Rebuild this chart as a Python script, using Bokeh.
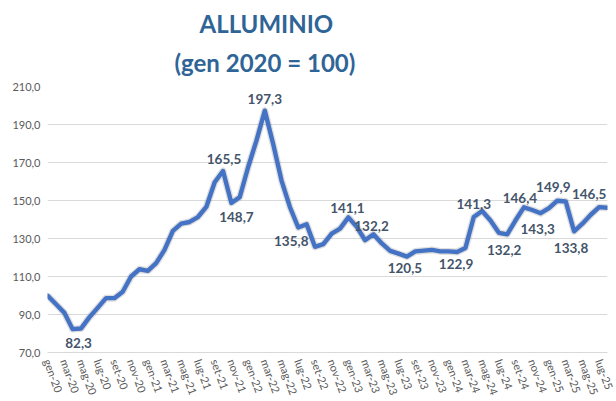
from bokeh.plotting import figure
from bokeh.models import Range1d, FixedTicker, CustomJSTickFormatter, ColumnDataSource, Title
from bokeh.core.properties import value
from bokeh.embed import file_html
from bokeh.resources import INLINE

# ---- data ----
months = [
    "gen-20", "feb-20", "mar-20", "apr-20", "mag-20", "giu-20", "lug-20", "ago-20", "set-20", "ott-20", "nov-20", "dic-20",
    "gen-21", "feb-21", "mar-21", "apr-21", "mag-21", "giu-21", "lug-21", "ago-21", "set-21", "ott-21", "nov-21", "dic-21",
    "gen-22", "feb-22", "mar-22", "apr-22", "mag-22", "giu-22", "lug-22", "ago-22", "set-22", "ott-22", "nov-22", "dic-22",
    "gen-23", "feb-23", "mar-23", "apr-23", "mag-23", "giu-23", "lug-23", "ago-23", "set-23", "ott-23", "nov-23", "dic-23",
    "gen-24", "feb-24", "mar-24", "apr-24", "mag-24", "giu-24", "lug-24", "ago-24", "set-24", "ott-24", "nov-24", "dic-24",
    "gen-25", "feb-25", "mar-25", "apr-25", "mag-25", "giu-25", "lug-25", "ago-25",
]
index_values = [
    100.0, 95.5, 91.0, 82.3, 82.6, 88.5, 93.5, 98.6, 98.6, 102.0, 110.0, 113.8,
    113.0, 117.0, 124.0, 134.0, 137.8, 138.7, 141.3, 146.6, 159.6, 165.5, 148.7, 151.8,
    167.5, 181.5, 197.3, 179.7, 160.5, 146.6, 135.8, 137.5, 125.6, 127.0, 132.6, 135.2,
    141.1, 136.1, 129.1, 132.2, 127.4, 123.5, 122.0, 120.5, 123.2, 123.6, 124.0, 123.2,
    123.2, 122.9, 125.0, 141.3, 144.5, 139.5, 133.0, 132.2, 139.6, 146.4, 145.0, 143.3,
    146.0, 149.9, 149.5, 133.8, 137.8, 142.5, 146.5, 146.2,
]
y_ticks = [70, 90, 110, 130, 150, 170, 190, 210]
x_label_step = 2
title_lines = ["ALLUMINIO", "(gen 2020 = 100)"]

# months that carry a value label, with label placement (screen px)
labelled_months = ["apr-20", "ott-21", "nov-21", "mar-22", "lug-22", "gen-23", "apr-23", "ago-23",
                   "feb-24", "apr-24", "ago-24", "ott-24", "dic-24", "feb-25", "apr-25", "lug-25"]
label_dx = [6, 1, 5, 0, -7, -1, -2, -2, -1, 0, -3, -4, -3, -4, -3, -10]
label_dy = [14, -12, 14, -12, 14, -9, -8, 11, 12, -13, 16, -9, 16, -14, 17, -13]

# ---- figure ----
p = figure(width=616, height=401, x_range=Range1d(0, len(months) - 1), y_range=Range1d(y_ticks[0], y_ticks[-1]),
           output_backend="svg", toolbar_location=None,
           min_border_left=47, min_border_right=9, min_border_top=86, min_border_bottom=48)
p.outline_line_color = None
p.background_fill_color = "white"
p.border_fill_color = "white"

p.xgrid.visible = False
p.ygrid.grid_line_color = "#d9d9d9"
p.ygrid.grid_line_width = 1
p.ygrid.ticker = FixedTicker(ticks=y_ticks)

p.yaxis.ticker = FixedTicker(ticks=y_ticks)
p.yaxis.formatter = CustomJSTickFormatter(code="return tick.toFixed(1).replace('.', ',')")
p.yaxis.axis_line_color = None
p.yaxis.major_tick_line_color = None
p.yaxis.minor_tick_line_color = None
p.yaxis.major_tick_out = 0
p.yaxis.major_tick_in = 0
p.yaxis.minor_tick_out = 0
p.yaxis.minor_tick_in = 0
p.yaxis.major_label_text_font = "Lato"
p.yaxis.major_label_text_font_size = "11px"
p.yaxis.major_label_text_color = "#595959"
p.yaxis.major_label_standoff = 7

xt = list(range(0, len(months), x_label_step))
p.xaxis.ticker = FixedTicker(ticks=xt)
p.xaxis.major_label_overrides = {i: months[i] for i in xt}
p.xaxis.major_label_orientation = -1.22
p.xaxis.axis_line_color = "#d9d9d9"
p.xaxis.major_tick_line_color = None
p.xaxis.minor_tick_line_color = None
p.xaxis.major_tick_out = 0
p.xaxis.major_tick_in = 0
p.xaxis.minor_tick_out = 0
p.xaxis.minor_tick_in = 0
p.xaxis.major_label_text_font = "Lato"
p.xaxis.major_label_text_font_size = "11px"
p.xaxis.major_label_text_color = "#595959"
p.xaxis.major_label_standoff = 7

xs = list(range(len(months)))
src = ColumnDataSource(dict(x=xs, y=index_values))
p.line("x", "y", source=src, line_width=7, line_color="#6b6b6b", line_alpha=0.22, line_join="round")
p.line("x", "y", source=src, line_width=4.4, line_color="#4472C4", line_join="round", line_cap="round")

li = [months.index(m) for m in labelled_months]
lab_src = ColumnDataSource(dict(
    x=li,
    y=[index_values[i] for i in li],
    t=[f"{index_values[i]:.1f}".replace(".", ",") for i in li],
    dx=label_dx,
    dy=label_dy,
))
p.text("x", "y", text="t", source=lab_src, x_offset="dx", y_offset="dy",
       text_align="center", text_baseline="middle",
       text_font=value("Lato"), text_font_style="bold", text_font_size="13.5px",
       text_color="#44546A")

title_kw = dict(align="left", text_font="Lato", text_font_style="bold", text_font_size="24px",
                text_color="#2F6497")
p.add_layout(Title(text=title_lines[1], offset=127, standoff=17, vertical_align="middle", **title_kw), "above")
p.add_layout(Title(text=title_lines[0], offset=152, standoff=2, **title_kw), "above")

open("out.html", "w").write(file_html(p, INLINE))
